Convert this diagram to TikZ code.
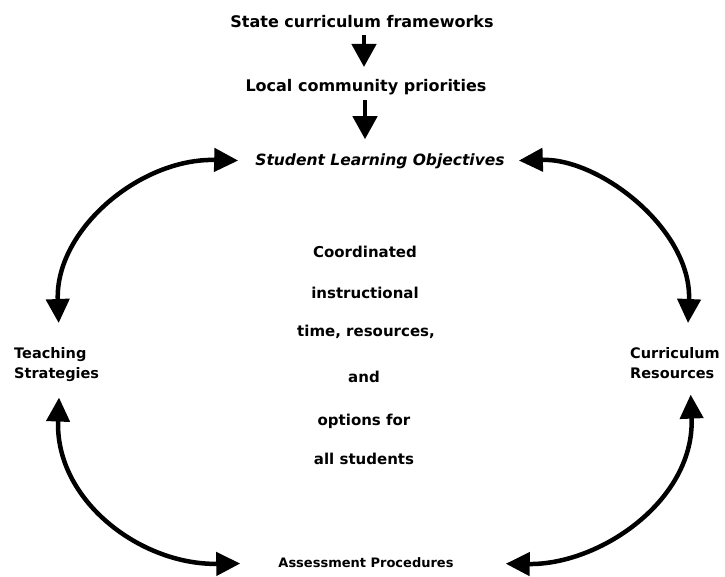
\documentclass[tikz,border=0pt]{standalone}
\usepackage{fontspec}
\setmainfont{DejaVu Sans}
\usetikzlibrary{arrows.meta}
\tikzset{
  lbl/.style={inner sep=0pt, font=\fontsize{16}{19}\selectfont\bfseries},
  side/.style={inner sep=0pt, align=left, anchor=north west, font=\fontsize{14.5}{20}\selectfont\bfseries},
  mid/.style={inner sep=0pt, font=\fontsize{15}{18}\selectfont\bfseries},
  flow/.style={line width=4.5pt, -{Triangle[length=23pt,width=24pt]}},
  loop/.style={line width=4.5pt, {Triangle[length=24pt,width=23pt]}-{Triangle[length=24pt,width=23pt]}},
}
\begin{document}
\begin{tikzpicture}[x=1pt,y=-1pt]
\useasboundingbox (0,0) rectangle (725,577);
% chain of sources
\node[lbl] (scf) at (362,22) {State curriculum frameworks};
\node[lbl] (lcp) at (366,87) {Local community priorities};
\node[lbl, font=\fontsize{15.5}{18}\selectfont\bfseries\itshape] (slo) at (380,161) {Student Learning Objectives};
% the four corners
\node[side] (ts) at (14,347) {Teaching\\Strategies};
\node[side] (cr) at (630,347) {Curriculum\\Resources};
\node[lbl, font=\fontsize{13}{16}\selectfont\bfseries] (ap) at (366,563) {Assessment Procedures};
% centre text
\node[mid] (c1) at (365,252) {Coordinated};
\node[mid] (c2) at (365,293) {instructional};
\node[mid] (c3) at (366,332) {time, resources,};
\node[mid] (c4) at (364,377) {and};
\node[mid] (c5) at (364,421) {options for};
\node[mid] (c6) at (364,459) {all students};
% downward arrows
\coordinate (a1) at (364,35);
\coordinate (a2) at (365,100);
\draw[flow, shorten >=12pt] (a1) -- (a1 |- lcp.north);
\draw[flow, shorten >=14pt] (a2) -- (a2 |- slo.north);
% the loop
\coordinate (tsn) at ([xshift=3pt]ts.north);
\coordinate (tss) at ([xshift=3pt]ts.south);
\coordinate (crn) at ([xshift=12pt]cr.north);
\coordinate (crs) at ([xshift=15pt]cr.south);
\draw[loop, shorten <=17pt, shorten >=24pt] (slo.west) .. controls (140,158) and (55,230) .. (tsn);
\draw[loop, shorten <=14pt, shorten >=24pt] (slo.east) .. controls (600,158) and (692,230) .. (crn);
\draw[loop, shorten <=16pt, shorten >=38pt] (tss) .. controls (55,500) and (140,565) .. (ap.west);
\draw[loop, shorten <=16pt, shorten >=52pt] (crs) .. controls (695,500) and (600,565) .. (ap.east);
\end{tikzpicture}
\end{document}
